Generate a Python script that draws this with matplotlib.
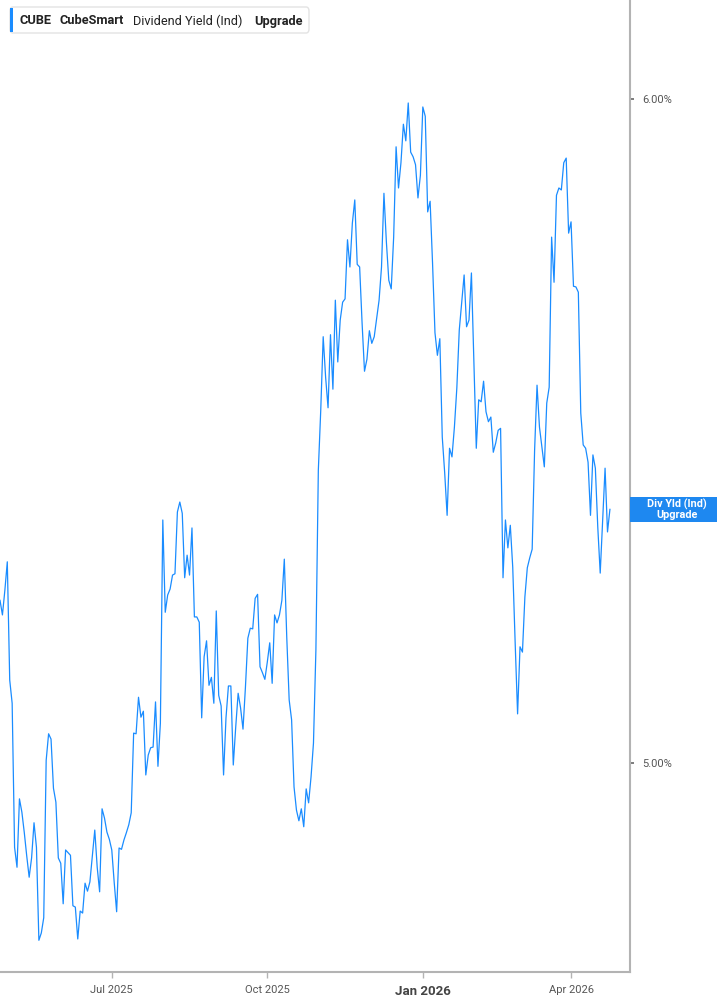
"""
CUBE dividend yield (indicated) - daily line chart, trading-day x axis.
"""
import matplotlib
matplotlib.use('Agg')
import matplotlib.pyplot as plt
import matplotlib.transforms as mtransforms
from matplotlib.patches import FancyBboxPatch, Rectangle
import numpy as np
import pandas as pd

START_DATE = '2025-04-24'
HOLIDAYS = ['2025-05-26', '2025-06-19', '2025-07-04', '2025-09-01', '2025-11-27',
            '2025-12-25', '2026-01-01', '2026-01-19', '2026-02-16', '2026-04-03']

# dividend yield (%) per trading session
YIELD_PCT = [
    5.245, 5.223, 5.260, 5.303, 5.125, 5.090, 4.873, 4.843, 4.946, 4.926,
    4.895, 4.860, 4.828, 4.857, 4.910, 4.873, 4.733, 4.744, 4.767, 5.004,
    5.044, 5.036, 4.962, 4.941, 4.857, 4.849, 4.788, 4.869, 4.865, 4.861,
    4.785, 4.783, 4.735, 4.777, 4.774, 4.819, 4.807, 4.821, 4.860, 4.899,
    4.843, 4.806, 4.931, 4.917, 4.896, 4.885, 4.869, 4.820, 4.776, 4.872,
    4.870, 4.884, 4.895, 4.907, 4.925, 5.045, 5.044, 5.099, 5.069, 5.078,
    4.982, 5.012, 5.023, 5.024, 5.092, 4.995, 5.060, 5.366, 5.227, 5.253,
    5.262, 5.283, 5.285, 5.378, 5.393, 5.376, 5.279, 5.313, 5.283, 5.354,
    5.220, 5.220, 5.212, 5.068, 5.160, 5.184, 5.117, 5.129, 5.090, 5.229,
    5.102, 5.086, 4.982, 5.068, 5.116, 5.116, 4.997, 5.054, 5.105, 5.083,
    5.051, 5.114, 5.188, 5.203, 5.202, 5.248, 5.254, 5.145, 5.136, 5.126,
    5.152, 5.181, 5.120, 5.223, 5.211, 5.223, 5.245, 5.307, 5.190, 5.095,
    5.065, 4.964, 4.929, 4.913, 4.931, 4.904, 4.961, 4.940, 4.979, 5.030,
    5.170, 5.441, 5.532, 5.642, 5.581, 5.535, 5.645, 5.563, 5.697, 5.604,
    5.667, 5.694, 5.699, 5.788, 5.747, 5.813, 5.848, 5.751, 5.747, 5.663,
    5.590, 5.608, 5.651, 5.632, 5.642, 5.669, 5.697, 5.747, 5.858, 5.785,
    5.727, 5.714, 5.792, 5.928, 5.866, 5.904, 5.962, 5.937, 5.994, 5.920,
    5.913, 5.901, 5.851, 5.885, 5.988, 5.974, 5.830, 5.846, 5.753, 5.648,
    5.614, 5.639, 5.491, 5.437, 5.373, 5.474, 5.461, 5.506, 5.565, 5.652,
    5.693, 5.735, 5.657, 5.667, 5.738, 5.607, 5.474, 5.547, 5.544, 5.575,
    5.529, 5.514, 5.521, 5.468, 5.482, 5.501, 5.504, 5.279, 5.366, 5.324,
    5.358, 5.295, 5.181, 5.074, 5.175, 5.167, 5.250, 5.294, 5.309, 5.322,
    5.471, 5.569, 5.506, 5.476, 5.446, 5.542, 5.566, 5.792, 5.724, 5.855,
    5.866, 5.863, 5.904, 5.911, 5.798, 5.815, 5.718, 5.717, 5.709, 5.527,
    5.479, 5.474, 5.453, 5.373, 5.464, 5.444, 5.355, 5.286, 5.366, 5.444,
    5.348, 5.382,
]

TICK_DATES = ['2025-07-01', '2025-10-01', '2026-01-02', '2026-04-01']
TICK_LABELS = ['Jul 2025', 'Oct 2025', 'Jan 2026', 'Apr 2026']
Y_TICKS = [5.0, 6.0]

LINE_COLOR = '#1a8cff'
BOX_COLOR = '#1e88f0'
AXIS_COLOR = '#b3b3b3'
TEXT_COLOR = '#555555'

plt.rcParams['font.family'] = ['Roboto', 'DejaVu Sans']

W, H = 717, 1005
fig = plt.figure(figsize=(W / 100, H / 100), dpi=100)
ax = fig.add_axes([0, 1 - 972 / H, 630 / W, 972 / H])

dates = pd.bdate_range(START_DATE, periods=400, freq='C', holidays=HOLIDAYS)[:len(YIELD_PCT)]
sessions = np.arange(len(YIELD_PCT))
ax.plot(sessions, YIELD_PCT, color=LINE_COLOR, lw=0.9)

ax.set_xlim(0, 630 / 2.43)
ax.set_ylim(6 - (972 - 99) / 664, 6 + 99 / 664)

tick_pos = [int(np.searchsorted(dates, pd.Timestamp(d))) for d in TICK_DATES]
ax.set_xticks(tick_pos)
ax.set_xticklabels(TICK_LABELS)
for lbl in ax.get_xticklabels():
    lbl.set_color(TEXT_COLOR)
    lbl.set_fontsize(8)
    if lbl.get_text() == 'Jan 2026':
        lbl.set_fontweight('bold')
        lbl.set_fontsize(9.5)
        lbl.set_color('#444444')
ax.tick_params(axis='x', length=4, width=1, color=AXIS_COLOR, pad=5)

ax.yaxis.tick_right()
ax.set_yticks(Y_TICKS)
ax.set_yticklabels([f'{v:.2f}%' for v in Y_TICKS], color=TEXT_COLOR, fontsize=8)
ax.tick_params(axis='y', length=3, width=1.2, color='#666666', pad=6)

for side in ['left', 'top']:
    ax.spines[side].set_visible(False)
for side in ['right', 'bottom']:
    ax.spines[side].set_color(AXIS_COLOR)
    ax.spines[side].set_linewidth(1.5)

# last value tag on right axis
last = YIELD_PCT[-1]
blend = mtransforms.blended_transform_factory(ax.transAxes, ax.transData)
box_h = 25 / 664
ax.add_patch(Rectangle((1.0, last - box_h / 2), (W - 630) / 630, box_h, transform=blend,
                       facecolor=BOX_COLOR, edgecolor='none', clip_on=False, zorder=5))
ax.text(1 + 47 / 630, last, 'Div Yld (Ind)\nUpgrade', transform=blend, ha='center', va='center',
        color='white', fontsize=7.8, fontweight='bold', linespacing=1.0, zorder=6, clip_on=False)

# legend header
fig.patches.append(FancyBboxPatch((10 / W, 1 - 33 / H), 299 / W, 26 / H,
                                  boxstyle='round,pad=0,rounding_size=0.004',
                                  transform=fig.transFigure, facecolor='white',
                                  edgecolor='#e3e3e3', lw=1))
fig.patches.append(Rectangle((10 / W, 1 - 32 / H), 3 / W, 24 / H, transform=fig.transFigure,
                             facecolor=LINE_COLOR, edgecolor='none'))
header = [('CUBE', 20, 'bold'), ('CubeSmart', 60, 'bold'),
          ('Dividend Yield (Ind)', 133, 'normal'), ('Upgrade', 254, 'bold')]
for txt, xpx, weight in header:
    fig.text(xpx / W, 1 - 21 / H, txt, ha='left', va='center', fontsize=9.2,
             fontweight=weight, color='#222222')

fig.savefig('out.png', dpi=100, facecolor='white')
